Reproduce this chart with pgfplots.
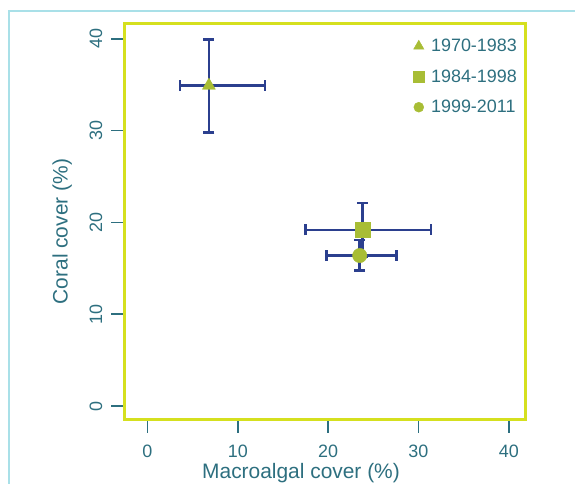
\documentclass[border=0pt]{standalone}
\usepackage{fontspec}
\setmainfont{Liberation Sans}
\usepackage{pgfplots}
\usepackage{pgfplotstable}
\pgfplotsset{compat=1.18}
\definecolor{boxc}{HTML}{D5E01F}
\definecolor{mk}{HTML}{A8BD35}
\definecolor{txt}{HTML}{2D6F7F}
\definecolor{eb}{HTML}{2B3F8E}
\definecolor{framec}{HTML}{A9E0E8}
\pgfplotstableread{
x xm xp y ym yp
6.8 3.2 6.2 34.9 5.1 5.0
}\tA
\pgfplotstableread{
x xm xp y ym yp
23.8 6.3 7.6 19.2 2.9 2.9
}\tB
\pgfplotstableread{
x xm xp y ym yp
23.5 3.7 4.1 16.4 1.6 1.7
}\tC
\begin{document}
\begin{tikzpicture}[x=1bp,y=1bp]
\useasboundingbox (0,0) rectangle (575,484);
\draw[framec, line width=2bp] (9,0) -- (9,473) -- (575,473);
\begin{axis}[
  at={(124bp,64bp)}, anchor=south west,
  scale only axis, width=401bp, height=396bp,
  xmin=-2.6, xmax=41.8, ymin=-1.5, ymax=41.6,
  axis line style={boxc, line width=3bp},
  xtick={0,10,20,30,40}, ytick={0,10,20,30,40},
  xtick pos=bottom, ytick pos=left,
  tick align=outside, major tick length=13bp,
  tick style={txt, line width=1.7bp},
  /pgf/number format/assume math mode=true,
  ticklabel style={font=\fontsize{18}{20}\selectfont, text=txt},
  xticklabel style={anchor=base},
  yticklabel style={rotate=90, anchor=base},
  xticklabel shift=25bp,
  yticklabel shift=9bp,
  xlabel={Macroalgal cover (\%)},
  ylabel={Coral cover (\%)},
  label style={font=\fontsize{21}{24}\selectfont, text=txt},
  xlabel style={at={(axis cs:17.0,-7.83)}, anchor=base},
  ylabel style={at={(axis cs:-8.83,19.0)}, anchor=base, rotate=0},
  legend style={at={(axis cs:29.1,40.4)}, anchor=north west, draw=none, fill=none,
    font=\fontsize{18}{20}\selectfont, text=txt, row sep=12.5bp, column sep=5bp},
  legend cell align=left,
  legend image code/.code={\draw[#1] plot coordinates {(0bp,0bp)};},
  error bars/error bar style={eb, line width=2.6bp},
  error bars/error mark options={eb, line width=2.6bp, mark size=5.5bp, rotate=90},
]
\addplot[draw=none, forget plot, error bars/.cd, x dir=both, y dir=both, x explicit, y explicit]
  table[x=x, y=y, x error minus=xm, x error plus=xp, y error minus=ym, y error plus=yp]{\tA};
\addplot[draw=none, forget plot, error bars/.cd, x dir=both, y dir=both, x explicit, y explicit]
  table[x=x, y=y, x error minus=xm, x error plus=xp, y error minus=ym, y error plus=yp]{\tB};
\addplot[draw=none, forget plot, error bars/.cd, x dir=both, y dir=both, x explicit, y explicit]
  table[x=x, y=y, x error minus=xm, x error plus=xp, y error minus=ym, y error plus=yp]{\tC};
\addplot[only marks, mark=triangle*, mark size=7.5bp, mk, forget plot] table[x=x,y=y]{\tA};
\addplot[only marks, mark=square*, mark size=7.5bp, mk, forget plot] table[x=x,y=y]{\tB};
\addplot[only marks, mark=*, mark size=7.2bp, mk, forget plot] table[x=x,y=y]{\tC};
\addlegendimage{only marks, mark=triangle*, mark size=6bp, mk}
\addlegendentry{1970-1983}
\addlegendimage{only marks, mark=square*, mark size=5.3bp, mk}
\addlegendentry{1984-1998}
\addlegendimage{only marks, mark=*, mark size=5bp, mk}
\addlegendentry{1999-2011}
\end{axis}
\end{tikzpicture}
\end{document}
